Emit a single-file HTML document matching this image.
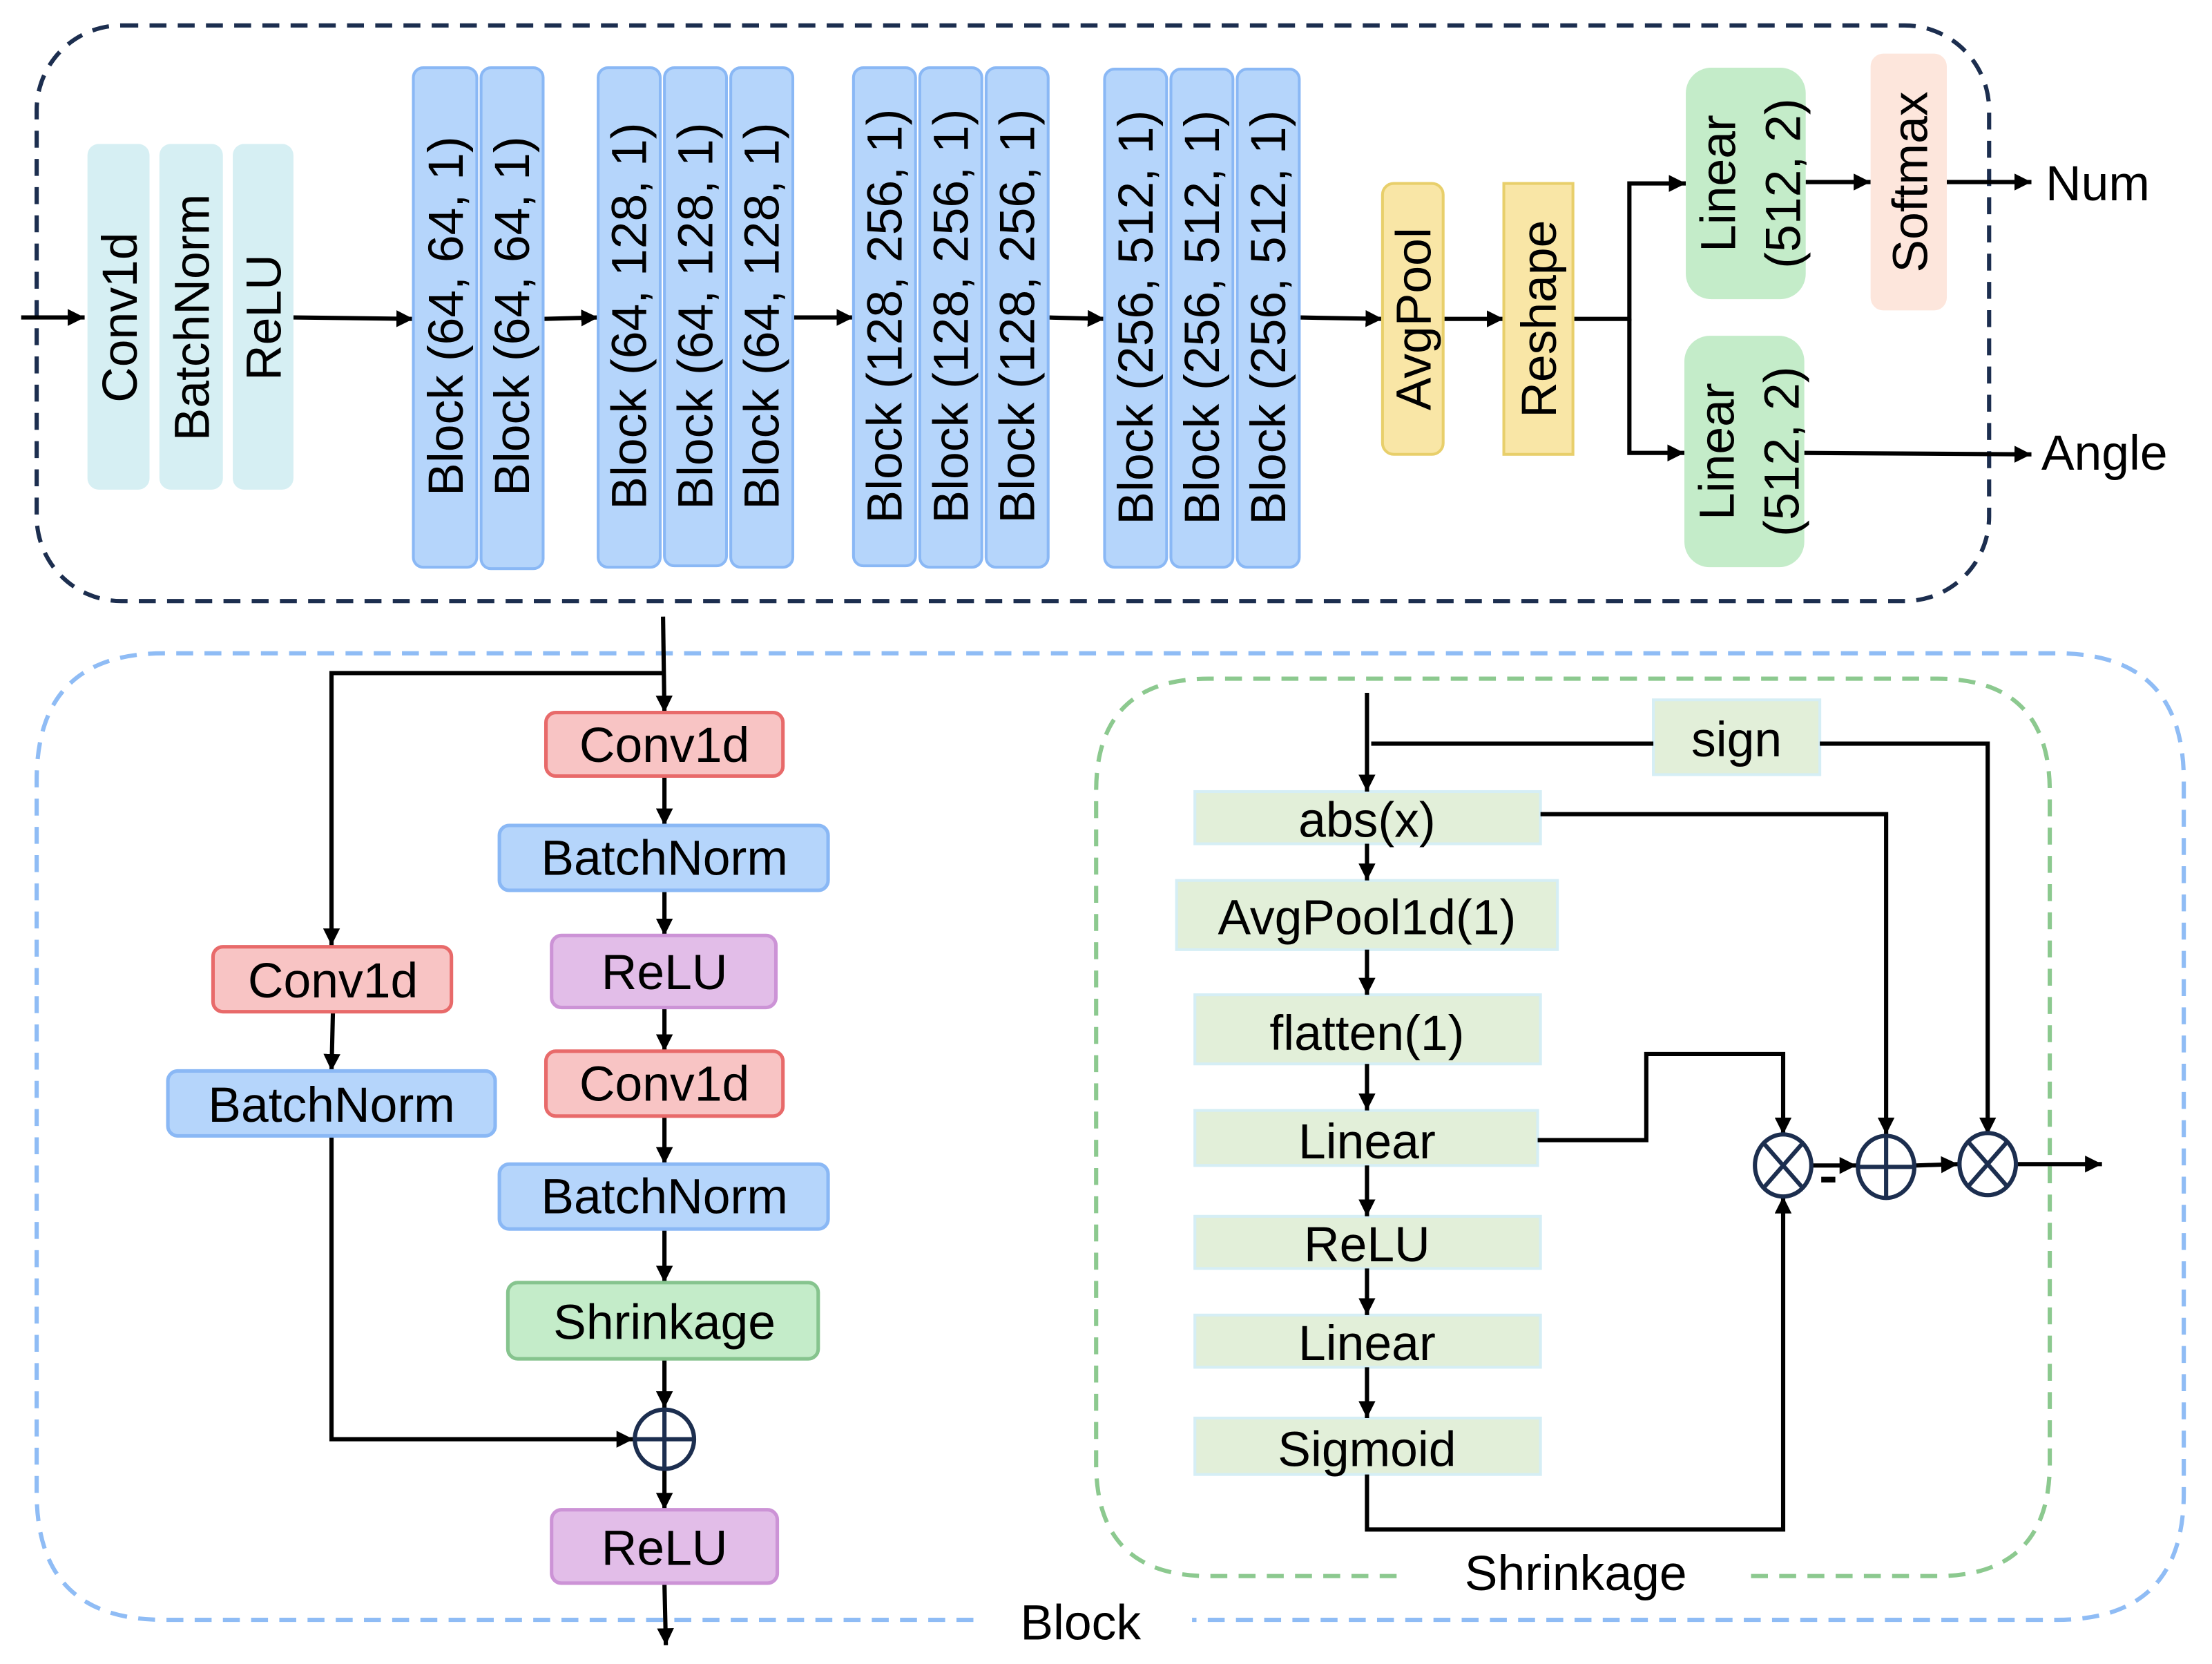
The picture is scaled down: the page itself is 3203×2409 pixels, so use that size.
<!DOCTYPE html>
<html><head><meta charset="utf-8"><style>
html,body{margin:0;padding:0;background:#fff;}
svg{display:block;}
text{font-family:"Liberation Sans",Arial,sans-serif;fill:#000;}
</style></head><body>
<svg width="3203" height="2409" viewBox="0 0 1568 1179.3" xmlns="http://www.w3.org/2000/svg">
<defs>
<marker id="a" viewBox="0 0 10 10" refX="10" refY="5" markerWidth="4" markerHeight="4" markerUnits="strokeWidth" orient="auto"><path d="M0,0L10,5L0,10z" fill="#000"/></marker>
</defs>
<!-- top container -->
<rect x="26" y="18" width="1384" height="408" rx="60" fill="none" stroke="#1c2e4f" stroke-width="3" stroke-dasharray="12,8"/>
<g stroke="#000" stroke-width="3" fill="none" marker-end="url(#a)">
<line x1="15" y1="225" x2="60" y2="225"/>
<line x1="208" y1="225" x2="293" y2="226"/>
<line x1="385" y1="226" x2="424" y2="225"/>
<line x1="562" y1="225" x2="605" y2="225"/>
<line x1="743" y1="225" x2="783" y2="226"/>
<line x1="921" y1="225" x2="980" y2="226"/>
<line x1="1023" y1="226" x2="1066" y2="226"/>
<polyline points="1115,226 1155,226 1155,130 1195,130"/>
<polyline points="1155,226 1155,321 1194,321"/>
<line x1="1280" y1="129" x2="1326" y2="129"/>
<line x1="1380" y1="129" x2="1440" y2="129"/>
<line x1="1279" y1="321" x2="1440" y2="322"/>
</g>
<g fill="#d6eff3">
<rect x="62" y="102" width="44" height="245" rx="8"/>
<rect x="113" y="102" width="45" height="245" rx="8"/>
<rect x="165" y="102" width="43" height="245" rx="8"/>
</g>
<g font-size="35" text-anchor="middle">
<text transform="translate(97,225) rotate(-90)">Conv1d</text>
<text transform="translate(148,225) rotate(-90)">BatchNorm</text>
<text transform="translate(199,225) rotate(-90)">ReLU</text>
</g>
<g fill="#b5d5fb" stroke="#8ab8f5" stroke-width="2">
<rect x="293" y="48" width="45" height="354" rx="7"/><rect x="341" y="48" width="44" height="355" rx="7"/>
<rect x="424" y="48" width="44" height="354" rx="7"/><rect x="471" y="48" width="44" height="353" rx="7"/><rect x="518" y="48" width="44" height="354" rx="7"/>
<rect x="605" y="48" width="44" height="353" rx="7"/><rect x="652" y="48" width="44" height="354" rx="7"/><rect x="699" y="48" width="44" height="354" rx="7"/>
<rect x="783" y="49" width="44" height="353" rx="7"/><rect x="830" y="49" width="44" height="353" rx="7"/><rect x="877" y="49" width="44" height="353" rx="7"/>
</g>
<g font-size="35" text-anchor="middle">
<text transform="translate(328,224) rotate(-90)">Block (64, 64, 1)</text>
<text transform="translate(375,224) rotate(-90)">Block (64, 64, 1)</text>
<text transform="translate(458,224) rotate(-90)">Block (64, 128, 1)</text>
<text transform="translate(505,224) rotate(-90)">Block (64, 128, 1)</text>
<text transform="translate(552,224) rotate(-90)">Block (64, 128, 1)</text>
<text transform="translate(639,224) rotate(-90)">Block (128, 256, 1)</text>
<text transform="translate(686,224) rotate(-90)">Block (128, 256, 1)</text>
<text transform="translate(733,224) rotate(-90)">Block (128, 256, 1)</text>
<text transform="translate(817,225) rotate(-90)">Block (256, 512, 1)</text>
<text transform="translate(864,225) rotate(-90)">Block (256, 512, 1)</text>
<text transform="translate(911,225) rotate(-90)">Block (256, 512, 1)</text>
</g>
<rect x="980" y="130" width="43" height="192" rx="8" fill="#f9e6a6" stroke="#e8cf6b" stroke-width="2"/>
<rect x="1066" y="130" width="49" height="192" fill="#f9e6a6" stroke="#e8cf6b" stroke-width="2"/>
<rect x="1195" y="48" width="85" height="164" rx="18" fill="#c4ecc9"/>
<rect x="1194" y="238" width="85" height="164" rx="18" fill="#c4ecc9"/>
<rect x="1326" y="38" width="54" height="182" rx="9" fill="#fde6dc"/>
<g font-size="35" text-anchor="middle">
<text transform="translate(1014,226) rotate(-90)">AvgPool</text>
<text transform="translate(1103,226) rotate(-90)">Reshape</text>
<text transform="translate(1230,130) rotate(-90)">Linear</text>
<text transform="translate(1276,130) rotate(-90)">(512, 2)</text>
<text transform="translate(1229,320) rotate(-90)">Linear</text>
<text transform="translate(1275,320) rotate(-90)">(512, 2)</text>
<text transform="translate(1366,129) rotate(-90)">Softmax</text>
</g>
<text x="1450" y="142" font-size="35">Num</text>
<text x="1447" y="333" font-size="35">Angle</text>

<!-- Block container -->
<path d="M690,1148 L116,1148 Q26,1148 26,1058 L26,553 Q26,463 116,463 L1458,463 Q1548,463 1548,553 L1548,1058 Q1548,1148 1458,1148 L845,1148" fill="none" stroke="#8fbcf5" stroke-width="3" stroke-dasharray="12,8"/>
<text x="766" y="1162" font-size="35" text-anchor="middle">Block</text>
<g stroke="#000" stroke-width="3" fill="none" marker-end="url(#a)">
<line x1="470" y1="437" x2="471" y2="505"/>
<polyline points="470,477 235,477 235,670"/>
<line x1="471" y1="550" x2="471" y2="585"/>
<line x1="471" y1="631" x2="471" y2="663"/>
<line x1="471" y1="714" x2="471" y2="745"/>
<line x1="471" y1="791" x2="471" y2="825"/>
<line x1="471" y1="871" x2="471" y2="909"/>
<line x1="471" y1="963" x2="471" y2="998"/>
<line x1="471" y1="1042" x2="471" y2="1070"/>
<line x1="471" y1="1122" x2="472" y2="1166"/>
<line x1="236" y1="717" x2="235" y2="759"/>
<polyline points="235,805 235,1020 449,1020"/>
</g>
<g stroke-width="2.5">
<rect x="387" y="505" width="168" height="45" rx="7" fill="#f8c4c4" stroke="#e86a6a"/>
<rect x="354" y="585" width="233" height="46" rx="7" fill="#b5d5fb" stroke="#8ab8f5"/>
<rect x="391" y="663" width="159" height="51" rx="7" fill="#e2bde8" stroke="#cc93d6"/>
<rect x="387" y="745" width="168" height="46" rx="7" fill="#f8c4c4" stroke="#e86a6a"/>
<rect x="354" y="825" width="233" height="46" rx="7" fill="#b5d5fb" stroke="#8ab8f5"/>
<rect x="360" y="909" width="220" height="54" rx="7" fill="#c4ecc9" stroke="#86c48e"/>
<rect x="391" y="1070" width="160" height="52" rx="7" fill="#e2bde8" stroke="#cc93d6"/>
<rect x="151" y="671" width="169" height="46" rx="7" fill="#f8c4c4" stroke="#e86a6a"/>
<rect x="119" y="759" width="232" height="46" rx="7" fill="#b5d5fb" stroke="#8ab8f5"/>
</g>
<g stroke="#1c2e4f" stroke-width="3" fill="none">
<ellipse cx="471" cy="1020" rx="21" ry="21"/>
<line x1="450" y1="1020" x2="492" y2="1020"/><line x1="471" y1="999" x2="471" y2="1041"/>
</g>
<g font-size="35" text-anchor="middle">
<text x="471" y="540">Conv1d</text>
<text x="471" y="620">BatchNorm</text>
<text x="471" y="701">ReLU</text>
<text x="471" y="780">Conv1d</text>
<text x="471" y="860">BatchNorm</text>
<text x="471" y="949">Shrinkage</text>
<text x="471" y="1109">ReLU</text>
<text x="236" y="707">Conv1d</text>
<text x="235" y="795">BatchNorm</text>
</g>

<!-- Shrinkage container -->
<path d="M990,1117 L857,1117 Q777,1117 777,1037 L777,561 Q777,481 857,481 L1373,481 Q1453,481 1453,561 L1453,1037 Q1453,1117 1373,1117 L1235,1117" fill="none" stroke="#8cc98f" stroke-width="3" stroke-dasharray="12,8"/>
<text x="1117" y="1127" font-size="35" text-anchor="middle">Shrinkage</text>
<g fill="#e2efd9" stroke="#d5eef5" stroke-width="2">
<rect x="847" y="561" width="245" height="37"/>
<rect x="834" y="624" width="270" height="49"/>
<rect x="847" y="705" width="245" height="49"/>
<rect x="847" y="787" width="243" height="39"/>
<rect x="847" y="862" width="245" height="37"/>
<rect x="847" y="932" width="245" height="37"/>
<rect x="847" y="1005" width="245" height="40"/>
<rect x="1172" y="496" width="118" height="53"/>
</g>
<g stroke="#000" stroke-width="3" fill="none" marker-end="url(#a)">
<line x1="969" y1="491" x2="969" y2="561"/>
<line x1="969" y1="598" x2="969" y2="624"/>
<line x1="969" y1="673" x2="969" y2="705"/>
<line x1="969" y1="754" x2="969" y2="787"/>
<line x1="969" y1="826" x2="969" y2="862"/>
<line x1="969" y1="899" x2="969" y2="932"/>
<line x1="969" y1="969" x2="969" y2="1005"/>
<polyline points="1290,527 1409,527 1409,804"/>
<polyline points="1092,577 1337,577 1337,804"/>
<polyline points="1090,808 1167,808 1167,747 1264,747 1264,804"/>
<polyline points="969,1045 969,1084 1264,1084 1264,848"/>
<line x1="1285" y1="826" x2="1316" y2="826"/>
<line x1="1358" y1="826" x2="1388" y2="825"/>
<line x1="1430" y1="825" x2="1490" y2="825"/>
</g>
<line x1="972" y1="527" x2="1172" y2="527" stroke="#000" stroke-width="3"/>
<g stroke="#1c2e4f" stroke-width="3" fill="none">
<ellipse cx="1264" cy="826" rx="20" ry="22"/>
<line x1="1250" y1="810" x2="1278" y2="842"/><line x1="1278" y1="810" x2="1250" y2="842"/>
<ellipse cx="1337" cy="827" rx="20" ry="22"/>
<line x1="1317" y1="827" x2="1357" y2="827"/><line x1="1337" y1="805" x2="1337" y2="849"/>
<ellipse cx="1409" cy="825" rx="20" ry="22"/>
<line x1="1395" y1="809" x2="1423" y2="841"/><line x1="1423" y1="809" x2="1395" y2="841"/>
</g>
<rect x="1291" y="834" width="10" height="4" fill="#000"/>
<g font-size="35" text-anchor="middle">
<text x="969" y="593">abs(x)</text>
<text x="969" y="662">AvgPool1d(1)</text>
<text x="969" y="744">flatten(1)</text>
<text x="969" y="821">Linear</text>
<text x="969" y="894">ReLU</text>
<text x="969" y="964">Linear</text>
<text x="969" y="1039">Sigmoid</text>
<text x="1231" y="536">sign</text>
</g>
</svg>
</body></html>
